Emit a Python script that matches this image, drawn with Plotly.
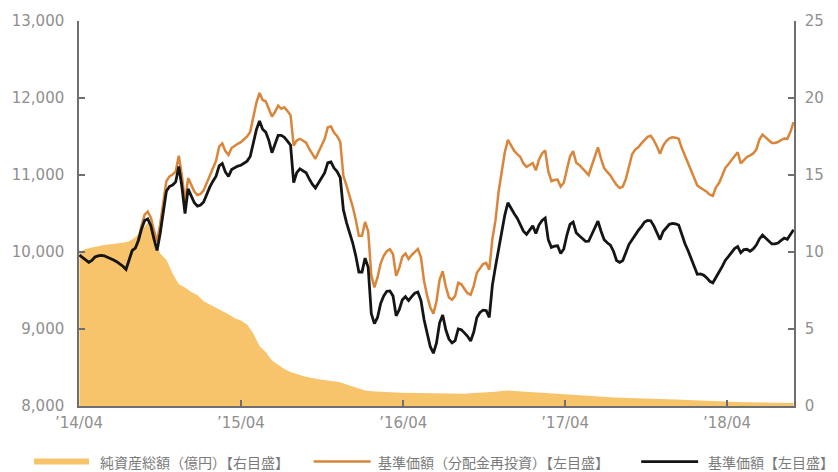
import pandas as pd
import plotly.graph_objects as go

# Weekly NAV (基準価額), yen
nav = [
    9960, 9925, 9890, 9865, 9890, 9935, 9950, 9955, 9950, 9935,
    9915, 9895, 9875, 9850, 9815, 9775, 9900, 10020, 10050, 10150,
    10300, 10410, 10430, 10340, 10170, 10020, 10240, 10540, 10790, 10850,
    10870, 10910, 11110, 10850, 10500, 10820, 10730, 10640, 10595, 10610,
    10650, 10750, 10845, 10920, 10985, 11120, 11150, 11040, 10980, 11070,
    11095, 11115, 11127, 11155, 11180, 11240, 11400, 11590, 11700, 11595,
    11557, 11450, 11290, 11400, 11514, 11514, 11490, 11440, 11387, 10900,
    11030, 11080, 11060, 11030, 10950, 10880, 10830, 10900, 10970, 11030,
    11160, 11170, 11090, 11045, 10965, 10550, 10385, 10265, 10120, 9950,
    9740, 9740, 9920, 9800, 9200, 9070, 9150, 9330, 9430, 9490,
    9495, 9430, 9170, 9250, 9380, 9420, 9370, 9420, 9465, 9480,
    9370, 9120, 8930, 8770, 8685, 8820, 9080, 9180, 8990, 8870,
    8820, 8850, 9000, 8990, 8950, 8905, 8845, 8960, 9150, 9215,
    9245, 9240, 9150, 9570, 9810, 10053, 10250, 10480, 10640, 10560,
    10500, 10440, 10350, 10270, 10230, 10290, 10340, 10240, 10350, 10410,
    10440, 10160, 10060, 10075, 10080, 9980, 10040, 10220, 10360, 10390,
    10250, 10210, 10175, 10139, 10140, 10220, 10310, 10400, 10270, 10160,
    10120, 10090, 10010, 9890, 9865, 9890, 9995, 10100, 10160, 10225,
    10280, 10330, 10390, 10410, 10405, 10340, 10260, 10161, 10265, 10320,
    10360, 10370, 10365, 10350, 10220, 10110, 10020, 9910, 9800, 9710,
    9715, 9700, 9667, 9620, 9600, 9680, 9740, 9810, 9890, 9940,
    9990, 10045, 10070, 9990, 10030, 10035, 10010, 10040, 10090, 10170,
    10220, 10180, 10135, 10105, 10105, 10117, 10150, 10180, 10165, 10220,
    10290,
]

# Weekly NAV with distributions reinvested (基準価額・分配金再投資), yen
nav_reinvested = [
    9960, 9925, 9890, 9865, 9890, 9935, 9950, 9955, 9950, 9935,
    9915, 9895, 9875, 9850, 9815, 9775, 9900, 10020, 10050, 10170,
    10340, 10485, 10525, 10445, 10280, 10135, 10360, 10665, 10920, 10980,
    11005, 11045, 11250, 10990, 10640, 10960, 10875, 10785, 10740, 10755,
    10800, 10900, 11005, 11100, 11185, 11370, 11410, 11310, 11260, 11350,
    11380, 11405, 11427, 11465, 11500, 11560, 11740, 11940, 12065, 11975,
    11957, 11860, 11760, 11820, 11900, 11860, 11880, 11830, 11777, 11380,
    11450, 11470, 11440, 11420, 11340, 11270, 11210, 11300, 11390, 11470,
    11620, 11630, 11550, 11505, 11430, 10990, 10865, 10740, 10590, 10420,
    10210, 10210, 10390, 10270, 9700, 9540, 9670, 9850, 9950, 10010,
    10035, 9970, 9690, 9790, 9940, 9980, 9910, 9960, 10005, 10040,
    9930, 9620, 9430, 9280, 9200, 9360, 9640, 9750, 9550, 9410,
    9380, 9430, 9600, 9580, 9520, 9465, 9445, 9560, 9730, 9785,
    9845, 9860, 9770, 10170, 10410, 10783, 11050, 11296, 11456, 11376,
    11316, 11270, 11235, 11150, 11105, 11130, 11156, 11060, 11200, 11280,
    11320, 11050, 10920, 10935, 10940, 10850, 10900, 11070, 11240, 11310,
    11160, 11130, 11085, 11040, 11000, 11120, 11230, 11360, 11210, 11090,
    11040, 10995, 10930, 10870, 10830, 10850, 10950, 11130, 11270, 11330,
    11360, 11410, 11460, 11495, 11510, 11450, 11370, 11277, 11380, 11440,
    11475, 11490, 11485, 11470, 11350, 11250, 11175, 11070, 10970, 10865,
    10835, 10810, 10783, 10745, 10730, 10840, 10895, 10990, 11090, 11140,
    11190, 11250, 11295, 11150, 11190, 11235, 11256, 11280, 11330, 11460,
    11525, 11490, 11445, 11415, 11415, 11428, 11455, 11475, 11470, 11560,
    11686,
]

# Biweekly net assets (純資産総額), 億円
net_assets = [
    10.0, 10.2, 10.3, 10.4, 10.45, 10.5, 10.55, 10.6, 10.7, 10.95,
    11.4, 11.9, 10.9, 9.9, 9.5, 8.6, 7.9, 7.7, 7.4, 7.2,
    6.8, 6.6, 6.4, 6.2, 5.95, 5.7, 5.55, 5.3, 4.7, 3.9,
    3.5, 2.95, 2.65, 2.4, 2.2, 2.05, 1.95, 1.85, 1.75, 1.7,
    1.65, 1.6, 1.55, 1.4, 1.25, 1.1, 1.0, 0.95, 0.92, 0.9,
    0.88, 0.87, 0.86, 0.85, 0.85, 0.84, 0.83, 0.82, 0.8, 0.8,
    0.8, 0.8, 0.8, 0.82, 0.84, 0.86, 0.88, 0.92, 0.97, 1.0,
    0.98, 0.95, 0.92, 0.9, 0.88, 0.85, 0.8, 0.77, 0.74, 0.72,
    0.7, 0.68, 0.66, 0.63, 0.6, 0.58, 0.56, 0.55, 0.54, 0.53,
    0.52, 0.51, 0.5, 0.48, 0.46, 0.44, 0.42, 0.4, 0.38, 0.36,
    0.34, 0.32, 0.3, 0.28, 0.27, 0.26, 0.25, 0.24, 0.24, 0.23,
    0.23, 0.22, 0.22, 0.21, 0.21, 0.2,
]

tick_dates = ["2014-04-01", "2015-04-01", "2016-04-01", "2017-04-01", "2018-04-01"]
tick_labels = ["’14/04", "’15/04", "’16/04", "’17/04", "’18/04"]
left_ticks = [8000, 9000, 10000, 11000, 12000, 13000]
right_ticks = [0, 5, 10, 15, 20, 25]

series_names = ["純資産総額（億円）【右目盛】", "基準価額（分配金再投資）【左目盛】", "基準価額【左目盛】"]

week_dates = pd.date_range("2014-04-02", periods=len(nav), freq="7D")
asset_dates = pd.date_range("2014-04-02", periods=len(net_assets), freq="14D")

AREA = "#F7C46C"
ORANGE = "#D9853A"
BLACK = "#151515"
TICK_GRAY = "#8f8f8f"
AXIS_GRAY = "#6f6f6f"
FONT = "DejaVu Sans"
CJK = "Noto Sans CJK JP"

fig = go.Figure()
fig.add_trace(go.Scatter(
    x=asset_dates, y=net_assets, yaxis="y", mode="lines",
    line=dict(width=0, color=AREA), fill="tozeroy", fillcolor=AREA,
    name=series_names[0], showlegend=False,
))
fig.add_trace(go.Scatter(
    x=week_dates, y=nav_reinvested, yaxis="y2", mode="lines",
    line=dict(width=2.5, color=ORANGE), name=series_names[1], showlegend=False,
))
fig.add_trace(go.Scatter(
    x=week_dates, y=nav, yaxis="y2", mode="lines",
    line=dict(width=2.8, color=BLACK), name=series_names[2], showlegend=False,
))

L, R, T, B = 78, 44, 18, 66
W, H = 838, 472
pw, ph = W - L - R, H - T - B


def px_x(px):
    return (px - L) / pw


def px_y(py):
    return (H - B - py) / ph


# Legend drawn beneath the plot: swatch + label for each series
legend_y = 462
swatches = [
    (33, 88, AREA, 6),
    (313, 370, ORANGE, 2.5),
    (641, 698, BLACK, 2.8),
]
text_x = [97, 375, 706]
shapes = []
annotations = []
for (x0, x1, col, w), tx, name in zip(swatches, text_x, series_names):
    shapes.append(dict(
        type="line", xref="paper", yref="paper",
        x0=px_x(x0), x1=px_x(x1), y0=px_y(legend_y), y1=px_y(legend_y),
        line=dict(color=col, width=w),
    ))
    annotations.append(dict(
        xref="paper", yref="paper", x=px_x(tx), y=px_y(legend_y),
        xanchor="left", yanchor="middle", showarrow=False, text=name,
        font=dict(family=CJK, size=14, color="#7a7a7a"),
    ))

axis_common = dict(
    showgrid=False, zeroline=False, showline=True, linecolor=AXIS_GRAY,
    linewidth=1.5, ticks="inside", ticklen=6, tickwidth=1.5, tickcolor=AXIS_GRAY,
    tickfont=dict(family=FONT, size=15, color=TICK_GRAY),
)

fig.update_layout(
    width=W, height=H,
    margin=dict(l=L, r=R, t=T, b=B),
    paper_bgcolor="white", plot_bgcolor="white",
    showlegend=False,
    xaxis=dict(
        type="date", range=["2014-04-01", "2018-08-30"],
        tickmode="array", tickvals=tick_dates, ticktext=tick_labels,
        ticklabelstandoff=2,
        **axis_common,
    ),
    yaxis=dict(
        side="right", range=[0, 25], tickmode="array", tickvals=right_ticks,
        ticklabelstandoff=6,
        **axis_common,
    ),
    yaxis2=dict(
        side="left", overlaying="y", range=[8000, 13000], tickmode="array",
        tickvals=left_ticks, tickformat=",", ticklabelstandoff=10,
        **axis_common,
    ),
    shapes=shapes,
    annotations=annotations,
)

fig.write_html("out.html")
